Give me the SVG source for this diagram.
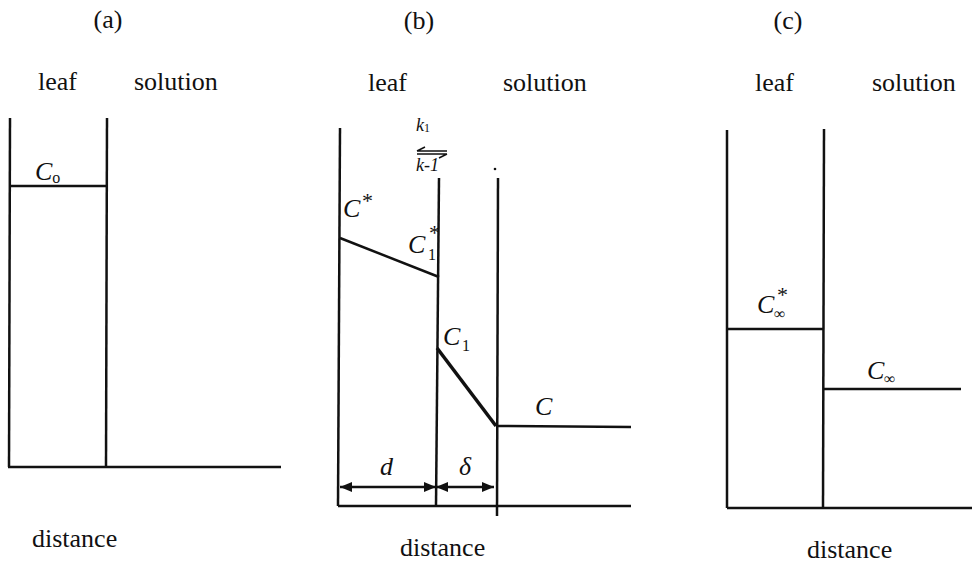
<svg xmlns="http://www.w3.org/2000/svg" width="972" height="564" viewBox="0 0 972 564">
<style>
text{font-family:"Liberation Serif","Times New Roman","DejaVu Serif",serif;fill:#111}
.t{font-size:26px}
.i{font-style:italic}
.u{font-style:normal}
.ln{stroke:#111;stroke-width:2.5;fill:none}
.th{stroke:#111;stroke-width:3.5;fill:none}
.hp{stroke:#111;stroke-width:1.5;fill:none}
</style>
<defs>
<marker id="ah" viewBox="0 0 12 10" refX="12" refY="5" markerWidth="13" markerHeight="10" orient="auto-start-reverse" markerUnits="userSpaceOnUse">
<path d="M0,0 L12,5 L0,10 z" fill="#111"/>
</marker>
</defs>
<rect width="972" height="564" fill="#fff"/>

<g id="panel-a">
<text class="t" x="108" y="28" text-anchor="middle">(a)</text>
<text class="t" x="38" y="90">leaf</text>
<text class="t" x="134" y="90">solution</text>
<line class="ln" x1="10" y1="118" x2="9" y2="467"/>
<line class="ln" x1="107" y1="118" x2="106" y2="467"/>
<line class="ln" x1="10" y1="186" x2="106" y2="186"/>
<line class="ln" x1="8" y1="467" x2="281" y2="467"/>
<text class="t i" x="35" y="180">C<tspan class="u" font-size="16" dy="3">o</tspan></text>
<text class="t" x="32" y="547">distance</text>
</g>

<g id="panel-b">
<text class="t" x="419" y="29" text-anchor="middle">(b)</text>
<text class="t" x="368" y="91">leaf</text>
<text class="t" x="503" y="91">solution</text>
<line class="ln" x1="340" y1="128" x2="338" y2="506"/>
<line class="ln" x1="439" y1="178" x2="436" y2="506"/>
<line class="ln" x1="498" y1="178" x2="497" y2="516"/>
<circle cx="495" cy="169" r="1.3" fill="#111"/>
<line class="ln" x1="338" y1="506" x2="631" y2="506"/>
<line class="ln" x1="340" y1="238" x2="439" y2="277"/>
<line class="th" x1="437" y1="348" x2="496" y2="426"/>
<line class="ln" x1="496" y1="426" x2="631" y2="427"/>
<text class="t i" x="343" y="217">C</text>
<text x="362" y="208" font-size="22">*</text>
<text class="t i" x="408" y="253">C</text>
<text x="428" y="260" font-size="16">1</text>
<text x="429" y="240" font-size="22">*</text>
<text class="t i" x="443" y="345">C</text>
<text x="462" y="351" font-size="16">1</text>
<text class="t i" x="535" y="415">C</text>
<text x="416" y="131" font-size="18" class="i">k<tspan class="u" font-size="12" dy="1">1</tspan></text>
<path d="M417,151 H447 M417,151 L425,147" class="hp"/>
<path d="M417,154 H447 M447,154 L439,158" class="hp"/>
<text x="416" y="171" font-size="18" class="i">k-1</text>
<line class="ln" x1="340" y1="487" x2="436" y2="487" marker-start="url(#ah)" marker-end="url(#ah)"/>
<line class="ln" x1="436" y1="487" x2="494" y2="487" marker-start="url(#ah)" marker-end="url(#ah)"/>
<text class="t i" x="380" y="475">d</text>
<text class="t i" x="459" y="475">δ</text>
<text class="t" x="400" y="556">distance</text>
</g>

<g id="panel-c">
<text class="t" x="788" y="29" text-anchor="middle">(c)</text>
<text class="t" x="755" y="91">leaf</text>
<text class="t" x="872" y="91">solution</text>
<line class="ln" x1="727" y1="130" x2="727" y2="508"/>
<line class="ln" x1="824" y1="129" x2="823" y2="508"/>
<line class="ln" x1="727" y1="329" x2="824" y2="329"/>
<line class="ln" x1="824" y1="389" x2="961" y2="389"/>
<line class="ln" x1="727" y1="508" x2="972" y2="508"/>
<text class="t i" x="757" y="313">C</text>
<text x="774" y="319" font-size="16">∞</text>
<text x="777" y="302" font-size="22">*</text>
<text class="t i" x="867" y="379">C</text>
<text x="884" y="384" font-size="16">∞</text>
<text class="t" x="807" y="558">distance</text>
</g>
</svg>
